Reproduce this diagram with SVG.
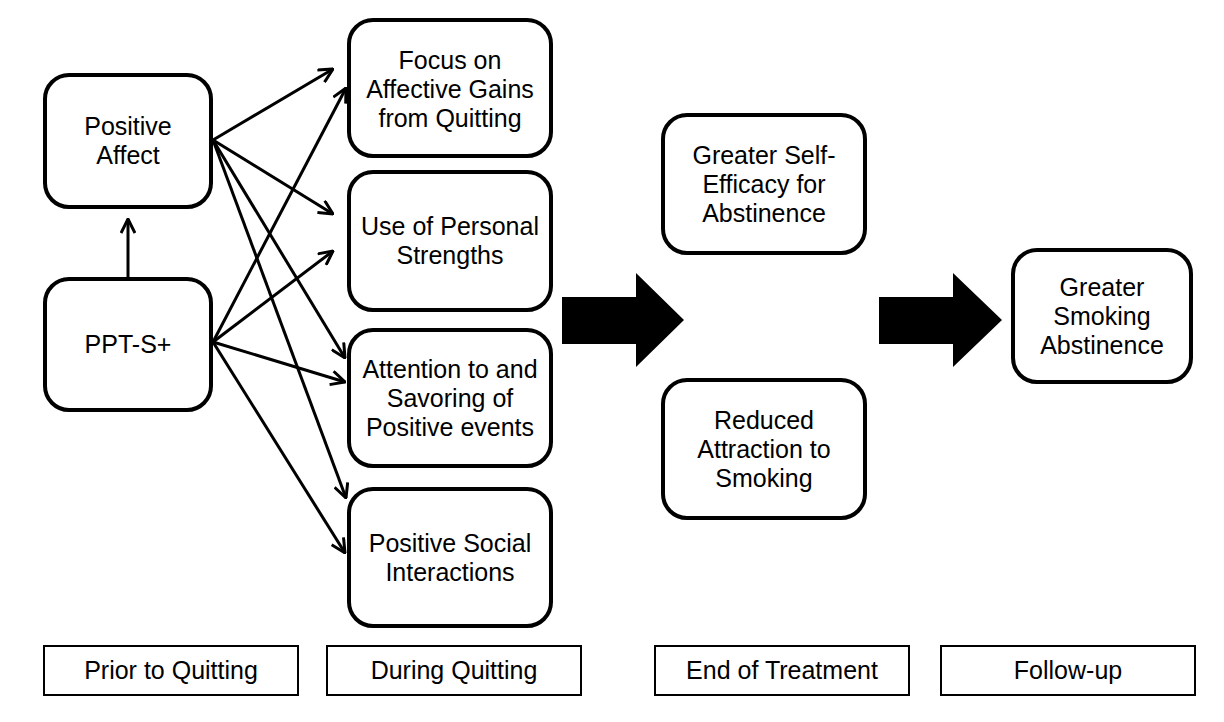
<svg xmlns="http://www.w3.org/2000/svg" width="1224" height="722" viewBox="0 0 1224 722">
<style>
.box{fill:#fff;stroke:#000;stroke-width:4}
.lab{fill:#fff;stroke:#000;stroke-width:2}
text{font-family:"Liberation Sans",Arial,sans-serif;font-size:25px;fill:#000;text-anchor:middle}
.con line{stroke:#000;stroke-width:3;marker-end:url(#ah)}
</style>
<defs>
<marker id="ah" viewBox="0 0 16 16" refX="15" refY="8" markerWidth="16" markerHeight="16" markerUnits="userSpaceOnUse" orient="auto">
<path d="M1,1 L15,8 L1,15" fill="none" stroke="#000" stroke-width="3"/>
</marker>
</defs>
<rect width="1224" height="722" fill="#fff"/>

<g class="con" id="connectors">
<line x1="128" y1="279" x2="128" y2="219"/>
<line x1="213" y1="140" x2="333" y2="69"/>
<line x1="213" y1="140" x2="333" y2="214"/>
<line x1="213" y1="140" x2="345" y2="358"/>
<line x1="213" y1="140" x2="346" y2="498"/>
<line x1="213" y1="342" x2="346" y2="88"/>
<line x1="213" y1="342" x2="333" y2="251"/>
<line x1="213" y1="342" x2="345" y2="382"/>
<line x1="213" y1="342" x2="345" y2="553"/>
<polygon points="562,297 636,297 636,273 684,320 636,367 636,344 562,344" fill="#000"/>
<polygon points="879,297 953,297 953,273 1002,320 953,367 953,344 879,344" fill="#000"/>
</g>

<g id="positive-affect">
<rect class="box" x="45" y="75" width="166" height="132" rx="24"/>
<text x="128" y="135">Positive</text>
<text x="128" y="164">Affect</text>
</g>
<g id="ppt">
<rect class="box" x="45" y="279" width="166" height="131" rx="24"/>
<text x="128" y="353">PPT-S+</text>
</g>

<g id="focus">
<rect class="box" x="349" y="20" width="202" height="136" rx="24"/>
<text x="450" y="69">Focus on</text>
<text x="450" y="98">Affective Gains</text>
<text x="450" y="127">from Quitting</text>
</g>
<g id="strengths">
<rect class="box" x="349" y="172" width="202" height="138" rx="24"/>
<text x="450" y="235">Use of Personal</text>
<text x="450" y="264">Strengths</text>
</g>
<g id="savoring">
<rect class="box" x="349" y="330" width="202" height="136" rx="24"/>
<text x="450" y="378">Attention to and</text>
<text x="450" y="407">Savoring of</text>
<text x="450" y="436">Positive events</text>
</g>
<g id="social">
<rect class="box" x="349" y="489" width="202" height="137" rx="24"/>
<text x="450" y="552">Positive Social</text>
<text x="450" y="581">Interactions</text>
</g>

<g id="self-efficacy">
<rect class="box" x="663" y="115" width="202" height="138" rx="24"/>
<text x="764" y="164">Greater Self-</text>
<text x="764" y="193">Efficacy for</text>
<text x="764" y="222">Abstinence</text>
</g>
<g id="attraction">
<rect class="box" x="663" y="380" width="202" height="138" rx="24"/>
<text x="764" y="429">Reduced</text>
<text x="764" y="458">Attraction to</text>
<text x="764" y="487">Smoking</text>
</g>
<g id="abstinence">
<rect class="box" x="1013" y="250" width="178" height="132" rx="24"/>
<text x="1102" y="296">Greater</text>
<text x="1102" y="325">Smoking</text>
<text x="1102" y="354">Abstinence</text>
</g>

<g id="label-prior">
<rect class="lab" x="44" y="646" width="254" height="49"/>
<text x="171" y="679">Prior to Quitting</text>
</g>
<g id="label-during">
<rect class="lab" x="327" y="646" width="254" height="49"/>
<text x="454" y="679">During Quitting</text>
</g>
<g id="label-end">
<rect class="lab" x="655" y="646" width="254" height="49"/>
<text x="782" y="679">End of Treatment</text>
</g>
<g id="label-follow">
<rect class="lab" x="941" y="646" width="254" height="49"/>
<text x="1068" y="679">Follow-up</text>
</g>
</svg>
